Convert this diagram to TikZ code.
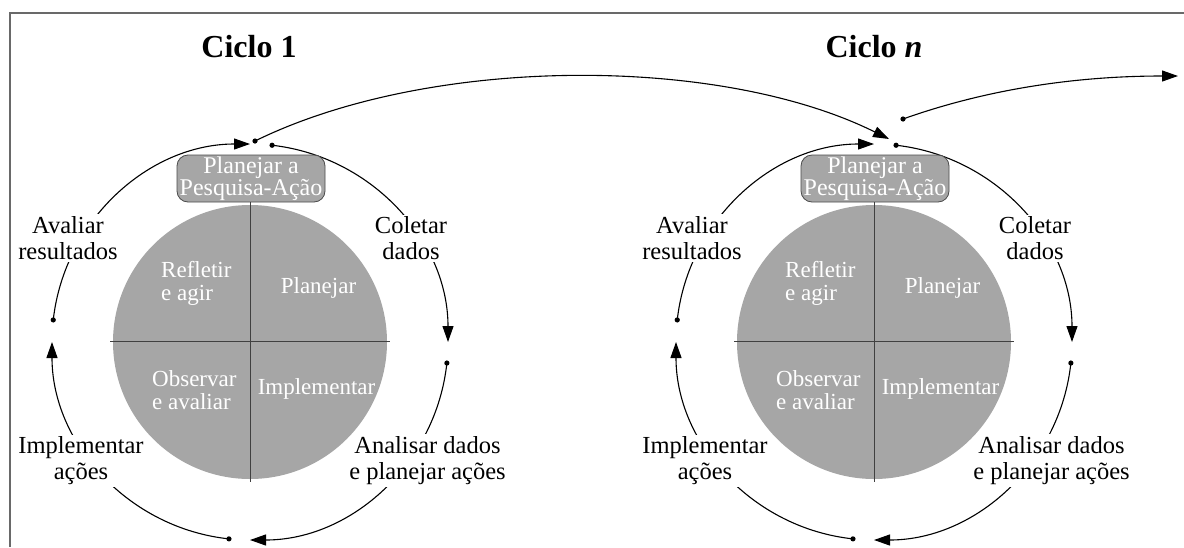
\documentclass[tikz,border=0pt]{standalone}
\usepackage{fontspec}
\setmainfont{Liberation Serif}
\usetikzlibrary{arrows.meta}
\definecolor{disc}{RGB}{166,166,166}
\definecolor{framecol}{RGB}{105,105,105}
\tikzset{
  seg/.style={line width=1.1pt, -{Triangle[length=16pt,width=11pt]}},
  link/.style={line width=1.1pt, -{Triangle[length=16pt,width=11pt]}},
  outerlab/.style={font=\fontsize{24.5}{26}\selectfont, fill=white, inner sep=2pt, align=center},
  innerlab/.style={font=\fontsize{23}{23}\selectfont, text=white, inner sep=0pt},
  boxlab/.style={draw=black!70, line width=0.8pt, fill=disc, rounded corners=11pt, minimum width=148pt, minimum height=47pt, inner sep=0pt, text=white, font=\fontsize{24}{20}\selectfont, align=center},
  titlelab/.style={font=\fontsize{32}{36}\selectfont\bfseries},
  crossline/.style={line width=0.8pt, draw=black!75},
}
\begin{document}
\begin{tikzpicture}[x=1pt,y=1pt]
\useasboundingbox (0,0) rectangle (1184,-547);
\fill[white] (0,0) rectangle (1184,-547);

\node[titlelab, anchor=base] (t1) at (249,-57) {Ciclo 1};
\node[titlelab, anchor=base] (tn) at (874,-57) {Ciclo \textit{n}};

\foreach \o/\p in {0/a,624/b}{
\begin{scope}[shift={(\o,0)}]
  \coordinate (o\p) at (250,-342);
  % ring segments
  \coordinate (d1\p) at ([shift={(83.6:198)}]o\p);
  \coordinate (d2\p) at ([shift={(-6.1:198)}]o\p);
  \coordinate (d3\p) at ([shift={(-96.1:198)}]o\p);
  \coordinate (d4\p) at ([shift={(173.6:198)}]o\p);
  \draw[seg] (d1\p) arc[start angle=83.6, end angle=0, radius=198];
  \draw[seg] (d2\p) arc[start angle=-6.1, end angle=-90, radius=198];
  \draw[seg] (d3\p) arc[start angle=-96.1, end angle=-180, radius=198];
  \draw[seg] (d4\p) arc[start angle=173.6, end angle=90, radius=198];
  \foreach \d in {d1,d2,d3,d4}{\fill (\d\p) circle[radius=2.6];}
  \node[outerlab] (av\p) at (68,-238) {Avaliar\\resultados};
  \node[outerlab] (co\p) at (411,-238.5) {Coletar\\dados};
  \node[outerlab] (im\p) at (81,-461) {Implementar\\ações};
  \node[outerlab] (an\p) at (427.5,-460.5) {Analisar dados\\e planejar ações};
  % disc, box, cross and inner labels
  \node[circle, fill=disc, minimum size=274pt, inner sep=0pt] (disc\p) at (o\p) {};
  \node[boxlab] (box\p) at (251,-178.5) {Planejar a\\Pesquisa-Ação};
  \draw[crossline] (110,-341) -- (390,-341);
  \draw[crossline] (box\p.south -| o\p) -- (250,-482);
  \node[innerlab, align=left, anchor=west] (ra\p) at (161,-283) {Refletir\\e agir};
  \node[innerlab, anchor=base] (pl\p) at (318.5,-293) {Planejar};
  \node[innerlab, align=left, anchor=west] (oa\p) at (152,-390.5) {Observar\\e avaliar};
  \node[innerlab, anchor=base] (imp\p) at (316.5,-394) {Implementar};
\end{scope}
}

\coordinate (src) at (255,-141);
\coordinate (dst) at (889,-139);
\fill (src) circle[radius=2.6];
\draw[link] (src) .. controls (430,-55) and (720,-55) .. (dst);

\coordinate (src2) at (903,-119);
\coordinate (dst2) at (1178,-76);
\fill (src2) circle[radius=2.6];
\draw[link] (src2) .. controls (990,-88) and (1080,-76) .. (dst2);

\draw[framecol, line width=2pt] (10,-547) -- (10,-13) -- (1184,-13);
\end{tikzpicture}
\end{document}
